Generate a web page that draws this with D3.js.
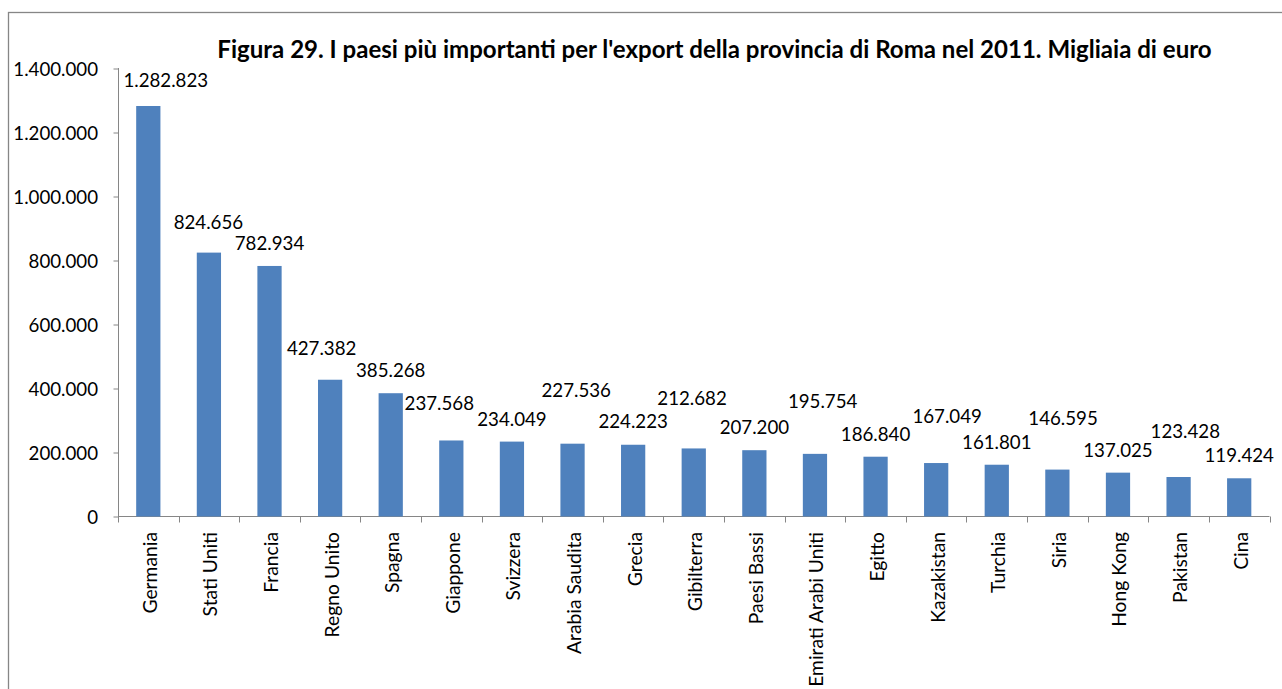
<!DOCTYPE html>
<html>
<head>
<meta charset="utf-8">
<script src="https://cdn.jsdelivr.net/npm/d3@7/dist/d3.min.js"></script>
<style>
  html, body { margin: 0; padding: 0; background: #fff; }
  svg { display: block; }
  text { font-family: Lato, "Open Sans", sans-serif; fill: #000; }
</style>
</head>
<body>
<svg id="chart" width="1282" height="689"></svg>
<script>
// Export della provincia di Roma nel 2011, migliaia di euro
const categories = [
  "Germania", "Stati Uniti", "Francia", "Regno Unito", "Spagna", "Giappone",
  "Svizzera", "Arabia Saudita", "Grecia", "Gibilterra", "Paesi Bassi",
  "Emirati Arabi Uniti", "Egitto", "Kazakistan", "Turchia", "Siria",
  "Hong Kong", "Pakistan", "Cina"
];
const values = [
  1282823, 824656, 782934, 427382, 385268, 237568,
  234049, 227536, 224223, 212682, 207200,
  195754, 186840, 167049, 161801, 146595,
  137025, 123428, 119424
];
const yTicks = [0, 200000, 400000, 600000, 800000, 1000000, 1200000, 1400000];
const title = "Figura 29. I paesi più importanti per l'export della provincia di Roma nel 2011. Migliaia di euro";

// Staggered placement of the value labels (px shift from the default spot above each bar)
const labelShift = [
  [17.5, -3], [-0.5, -7.3], [0, 0], [-8.5, -8.3], [0, 0], [-12, -14.3],
  [0, 0], [3.7, -31], [0, -0.8], [-1.7, -27.3], [0, 0],
  [7.7, -30.3], [0, 0], [11, -24], [0, 0], [5.7, -28.3],
  [0, 0], [6.7, -22.6], [0, 0]
];

const svg = d3.select("#chart");
const axisColor = "#868686";
const barColor = "#4F81BD";
const fontSize = 18.7;
const catFontSize = 19.3;

// Italian number format: dot as thousands separator
const fmt = d3.formatLocale({ decimal: ",", thousands: ".", grouping: [3], currency: ["€", ""] }).format(",d");

const x0 = 118, x1 = 1269.5;
const x = d3.scaleBand().domain(categories).range([x0, x1]).paddingInner(0.6).paddingOuter(0.3);
const y = d3.scaleLinear().domain([0, 1400000]).range([516.5, 68.5]);

// Chart frame
svg.append("rect")
  .attr("x", 8.5).attr("y", 12.5)
  .attr("width", 1300).attr("height", 700)
  .attr("fill", "none").attr("stroke", axisColor).attr("stroke-width", 1.3);

// Title, fitted to its width
const t = svg.append("text")
  .attr("x", 714.5).attr("y", 58.3)
  .attr("text-anchor", "middle")
  .style("font-weight", "bold")
  .style("font-size", "20px")
  .text(title);
const tw = t.node().getComputedTextLength();
t.style("font-size", (20 * 995 / tw) + "px");

// Y axis
const yAxis = svg.append("g").attr("transform", `translate(${x0},0)`)
  .call(d3.axisLeft(y).tickValues(yTicks).tickSize(5).tickPadding(15).tickFormat(fmt));
yAxis.select(".domain").attr("stroke", axisColor).attr("d", `M0.5,${y(0)}V${y(1400000) - 0.5}`);
yAxis.selectAll(".tick line").attr("stroke", axisColor).attr("x2", -5).attr("transform", "translate(0.5,0)");
yAxis.selectAll(".tick text")
  .attr("dy", "0.36em")
  .style("font-size", fontSize + "px")
  .style("font-family", "Lato, sans-serif");

// X axis: baseline and tick marks on band boundaries
const step = x.step();
const boundaries = d3.range(categories.length + 1).map(i => x0 + i * step);
svg.append("line")
  .attr("x1", x0).attr("x2", x1)
  .attr("y1", y(0)).attr("y2", y(0))
  .attr("stroke", axisColor);
svg.append("g").selectAll("line").data(boundaries).join("line")
  .attr("x1", d => Math.round(d) + 0.5).attr("x2", d => Math.round(d) + 0.5)
  .attr("y1", y(0)).attr("y2", y(0) + 6)
  .attr("stroke", axisColor);

// Bars
svg.append("g").selectAll("rect").data(values).join("rect")
  .attr("x", (d, i) => x(categories[i]))
  .attr("y", d => y(d))
  .attr("width", x.bandwidth())
  .attr("height", d => y(0) - y(d))
  .attr("fill", barColor);

// Value labels
svg.append("g").selectAll("text").data(values).join("text")
  .attr("x", (d, i) => x(categories[i]) + x.bandwidth() / 2 + labelShift[i][0])
  .attr("y", (d, i) => y(d) - 22.7 + labelShift[i][1])
  .attr("dy", "0.36em")
  .attr("text-anchor", "middle")
  .style("font-size", fontSize + "px")
  .text(d => fmt(d));

// Category labels, rotated
svg.append("g").selectAll("text").data(categories).join("text")
  .attr("transform", d => `translate(${x(d) + x.bandwidth() / 2 + 8.5},532) rotate(-90)`)
  .attr("text-anchor", "end")
  .style("font-size", catFontSize + "px")
  .text(d => d);
</script>
</body>
</html>
